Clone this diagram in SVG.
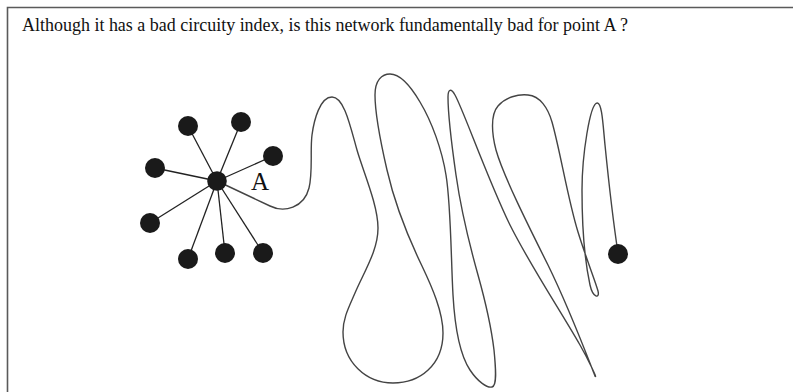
<svg xmlns="http://www.w3.org/2000/svg" width="793" height="392" viewBox="0 0 793 392">
<style>
.frame{fill:none;stroke:#5a5a5a;stroke-width:1.6}
.edge{fill:none;stroke:#222;stroke-width:1.3}
.route{fill:none;stroke:#444;stroke-width:1.4;stroke-linejoin:round}
.node{fill:#1a1a1a}
.title{font-family:"Liberation Serif","Times New Roman",serif;font-size:18px;fill:#111}
.lbl{font-family:"Liberation Serif","Times New Roman",serif;font-size:25px;fill:#111}
</style>
<rect width="793" height="392" fill="#fff"/>
<path class="frame" d="M7.5,392 V7.5 H793"/>
<text class="title" x="22" y="31" textLength="606" lengthAdjust="spacingAndGlyphs">Although it has a bad circuity index, is this network fundamentally bad for point A ?</text>
<g id="connectors">
<line class="edge" x1="217" y1="181" x2="188" y2="126"/>
<line class="edge" x1="217" y1="181" x2="241" y2="122"/>
<line class="edge" x1="217" y1="181" x2="273" y2="156"/>
<line class="edge" x1="217" y1="181" x2="155" y2="168"/>
<line class="edge" x1="217" y1="181" x2="150" y2="223"/>
<line class="edge" x1="217" y1="181" x2="188" y2="259"/>
<line class="edge" x1="217" y1="181" x2="225" y2="253"/>
<line class="edge" x1="217" y1="181" x2="263" y2="253"/>
<path id="route" class="route" d="M217,181 L270,206 C284,213 304,208 309,188 C313,172 310,150 312,135 C314,120 320,97 332,97 C344,97 350,125 357,150 C363,171 378,205 378,228 C378,250 365,270 355,293 C349,307 343,318 343,332 C343,362 366,383 393,383 C420,383 443,365 443,333 C443,312 432,287 422,266 C408,237 395,205 387,170 C381,144 375,115 375,95 C375,80 382,74 390,74 C400,74 410,85 420,102 C432,122 442,150 446,175 C451,205 451,260 453,295 C455,330 460,355 470,370 C478,382 487,388 492,387 C497,386 496,370 494,350 C491,325 485,300 478,275 C471,250 461,210 456,175 C452,147 448,115 448,97 C448,89 451,88 455,95 C463,109 488,180 510,225 C530,265 560,310 580,345 C588,359 598,380 595,376 C591,366 570,310 548,265 C528,225 503,175 496,150 C492,135 490,115 498,106 C506,97 518,94 528,95 C540,96 548,108 552,122 C560,150 568,200 578,232 C586,258 596,283 598,291 C600,299 593,298 590,285 C585,262 582,225 582,190 C582,155 590,104 597,103 C602,102 603,125 605,145 C608,175 613,220 618,253"/>
</g>
<g id="A"><circle class="node" cx="217" cy="181" r="9.8"/><text class="lbl" x="251" y="190">A</text></g>
<g id="n1"><circle class="node" cx="188" cy="126" r="10"/></g>
<g id="n2"><circle class="node" cx="241" cy="122" r="10"/></g>
<g id="n3"><circle class="node" cx="273" cy="156" r="10"/></g>
<g id="n4"><circle class="node" cx="155" cy="168" r="10"/></g>
<g id="n5"><circle class="node" cx="150" cy="223" r="10"/></g>
<g id="n6"><circle class="node" cx="188" cy="259" r="10"/></g>
<g id="n7"><circle class="node" cx="225" cy="253" r="10"/></g>
<g id="n8"><circle class="node" cx="263" cy="253" r="10"/></g>
<g id="end"><circle class="node" cx="618" cy="254" r="10"/></g>
</svg>
